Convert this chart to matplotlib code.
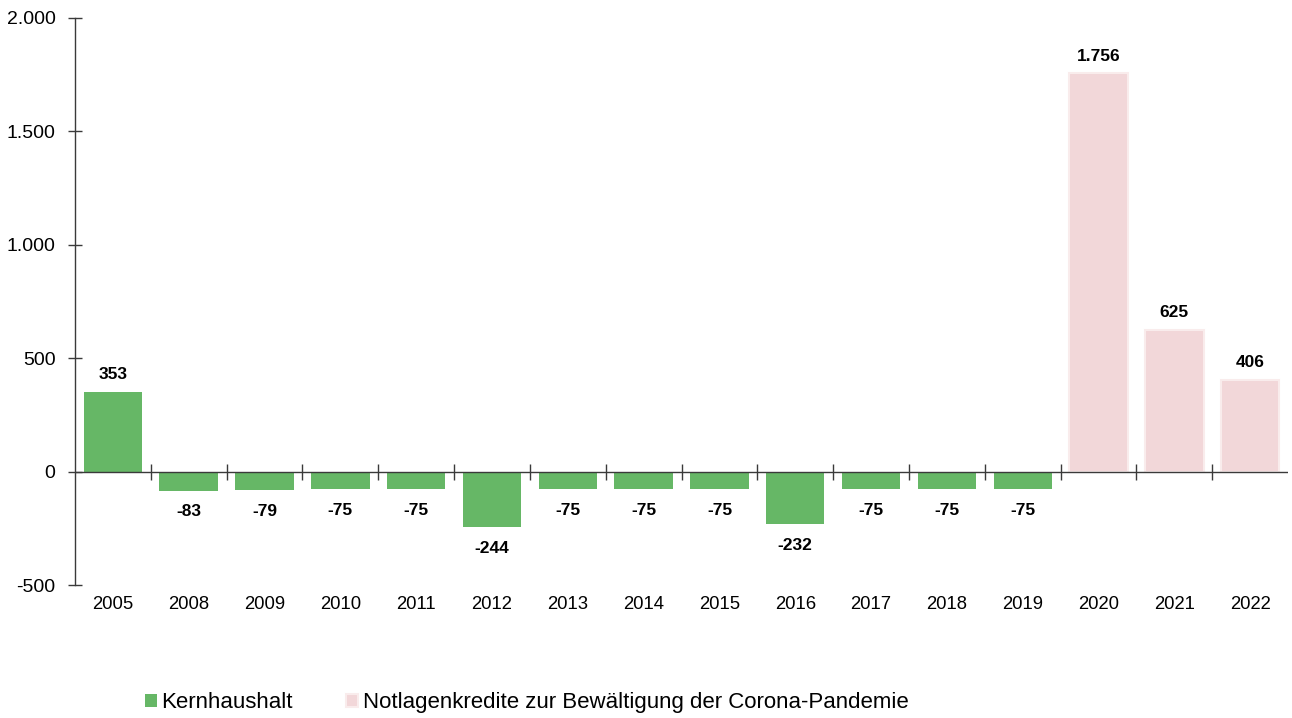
import matplotlib
matplotlib.use("Agg")
import matplotlib.pyplot as plt
import numpy as np
from matplotlib.ticker import FuncFormatter

plt.rcParams['font.family'] = ['Liberation Sans', 'DejaVu Sans']

years = ["2005", "2008", "2009", "2010", "2011", "2012", "2013", "2014", "2015",
         "2016", "2017", "2018", "2019", "2020", "2021", "2022"]
kern_years = years[:13]
kern_values = [353, -83, -79, -75, -75, -244, -75, -75, -75, -232, -75, -75, -75]
corona_years = years[13:]
corona_values = [1756, 625, 406]

green = "#66b766"
pink = "#f2d7d9"
axis_col = "#3a3a3a"

fig = plt.figure(figsize=(12.92, 7.18), dpi=100)
ax = fig.add_axes([0.058, 0.185, 0.939, 0.79])

x = np.arange(len(years))
xk = x[:13]
xc = x[13:]
w = 0.77
ax.bar(xk, kern_values, width=w, color=green, label="Kernhaushalt", zorder=2)
ax.bar(xc, corona_values, width=w, color=pink, edgecolor="#f9ecec", linewidth=1.5,
       label="Notlagenkredite zur Bewältigung der Corona-Pandemie", zorder=2)

def fmt(v):
    return f"{v:,}".replace(",", ".")

for xi, v in zip(list(xk) + list(xc), kern_values + corona_values):
    if v >= 0:
        ax.annotate(fmt(v), (xi, v), xytext=(0, 7), textcoords="offset points",
                    ha="center", va="bottom", fontsize=12.5, fontweight="bold")
    else:
        ax.annotate(fmt(v), (xi, v), xytext=(0, -10), textcoords="offset points",
                    ha="center", va="top", fontsize=12.5, fontweight="bold")

ax.set_xlim(-0.5, len(years) - 0.5)
ax.set_ylim(-500, 2000)
ax.set_yticks([-500, 0, 500, 1000, 1500, 2000])
ax.yaxis.set_major_formatter(FuncFormatter(lambda v, p: fmt(int(v))))
ax.tick_params(axis="y", direction="inout", length=10, width=1, color=axis_col,
               labelsize=14, pad=9)

ax.set_xticks(x)
ax.set_xticklabels(years)
ax.tick_params(axis="x", length=0, labelsize=13.3, pad=8)

for s in ["top", "right", "bottom"]:
    ax.spines[s].set_visible(False)
ax.spines["left"].set_color(axis_col)
ax.spines["left"].set_linewidth(1)

ax.axhline(0, color=axis_col, linewidth=1, zorder=3)
sec = ax.secondary_xaxis(0.2)
sec.spines["bottom"].set_visible(False)
sec.set_xticks(x[1:] - 0.5)
sec.set_xticklabels([])
sec.tick_params(axis="x", direction="inout", length=12, width=1, color=axis_col)

leg = fig.legend(loc="center left", bbox_to_anchor=(0.112, 0.021), ncol=2, frameon=False,
                 fontsize=16, handlelength=0.55, handleheight=0.55, handletextpad=0.2,
                 columnspacing=2.4, borderpad=0, borderaxespad=0)

fig.savefig("out.png", dpi=100)
